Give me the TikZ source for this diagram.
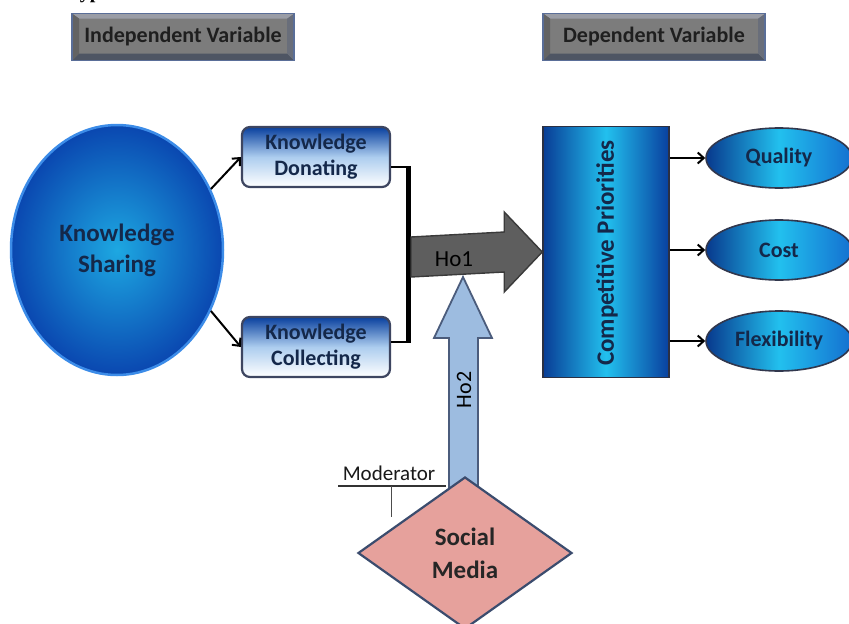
\documentclass[tikz,border=0pt]{standalone}
\usepackage{fontspec}
\setmainfont{Carlito}
\newfontfamily\hyptitle{Liberation Serif}
\usetikzlibrary{shapes.geometric,arrows.meta,calc}
\definecolor{navytext}{HTML}{14284A}
\definecolor{graybox}{HTML}{7C7C7C}
\definecolor{graydark}{HTML}{4E5563}
\definecolor{graylight}{HTML}{9A9DA6}
\definecolor{grayedge}{HTML}{5A6E98}
\definecolor{deepblue}{HTML}{0A47B0}
\definecolor{midblue}{HTML}{1470D0}
\definecolor{cyanblue}{HTML}{22C0EE}
\definecolor{rimblue}{HTML}{3C8CE8}
\definecolor{boxedge}{HTML}{3D4560}
\definecolor{hoonegray}{HTML}{5E5E5E}
\definecolor{hooneedge}{HTML}{3A3A3A}
\definecolor{hotwofill}{HTML}{9DBCE0}
\definecolor{hotwoedge}{HTML}{4B5C7C}
\definecolor{salmon}{HTML}{E6A19C}
\definecolor{diaedge}{HTML}{3B4C6E}
\tikzset{
  varbox/.style={rectangle, fill=graybox, draw=grayedge, line width=1.2pt,
    minimum width=222pt, minimum height=47pt, inner sep=0pt,
    font=\bfseries\fontsize{22}{26}\selectfont, text=black!88,
    path picture={
      \fill[graydark] (path picture bounding box.south west) -- (path picture bounding box.south east)
        -- ([xshift=-7pt,yshift=7pt]path picture bounding box.south east)
        -- ([xshift=7pt,yshift=7pt]path picture bounding box.south west) -- cycle;
      \fill[graydark!85] (path picture bounding box.south east) -- (path picture bounding box.north east)
        -- ([xshift=-7pt,yshift=-5pt]path picture bounding box.north east)
        -- ([xshift=-7pt,yshift=7pt]path picture bounding box.south east) -- cycle;
      \fill[graylight] (path picture bounding box.north west) -- (path picture bounding box.north east)
        -- ([xshift=-7pt,yshift=-5pt]path picture bounding box.north east)
        -- ([xshift=7pt,yshift=-5pt]path picture bounding box.north west) -- cycle;
      \fill[graybox!80!black] (path picture bounding box.north west) -- (path picture bounding box.south west)
        -- ([xshift=7pt,yshift=7pt]path picture bounding box.south west)
        -- ([xshift=7pt,yshift=-5pt]path picture bounding box.north west) -- cycle;
    }},
  kbox/.style={rectangle, rounded corners=8pt, draw=boxedge, line width=2.2pt,
    top color=deepblue!90!black, bottom color=white, middle color=midblue!35!white,
    minimum width=148pt, minimum height=60pt, inner sep=0pt, align=center,
    font=\bfseries\fontsize{22}{26}\selectfont, text=navytext},
  outcome/.style={ellipse, draw=boxedge!80!black, line width=1.6pt,
    left color=deepblue!80!black, right color=midblue, middle color=cyanblue,
    minimum width=146pt, minimum height=60pt, inner sep=0pt,
    font=\bfseries\fontsize{22}{24}\selectfont, text=navytext},
  linkarrow/.style={-{Straight Barb[length=6pt,width=11pt]}, line width=2pt, black},
}
\begin{document}
\begin{tikzpicture}[x=1pt,y=-1pt]
\useasboundingbox (0,0) rectangle (849,624);
\fill[white] (0,0) rectangle (849,624);

% cropped title (only its descenders fall inside the page)
\node[anchor=base west, inner sep=0pt, font=\hyptitle\bfseries\fontsize{20}{22}\selectfont] (title) at (64,-2) {Hypotheses};

% variable labels
\node[varbox] (indep) at (183,37) {Independent Variable};
\node[varbox] (dep) at (654,37) {Dependent Variable};

% Ho2 arrow (behind)
\coordinate (hotwotip) at (463,277);
\filldraw[fill=hotwofill, draw=hotwoedge, line width=1.8pt]
  (hotwotip) -- (492,338) -- (478,338) -- (478,505) -- (449,505) -- (449,338) -- (434,338) -- cycle;
\node[rotate=90, font=\fontsize{22}{24}\selectfont, text=black] (hotwo) at (464,390) {Ho2};

% Knowledge sharing
\node[ellipse, minimum width=212pt, minimum height=250pt, inner sep=0pt,
  inner color=cyanblue!80!deepblue, outer color=deepblue, draw=rimblue, line width=2.5pt,
  align=center, font=\bfseries\fontsize{25}{31}\selectfont, text=navytext] (ks) at (117,250)
  {Knowledge\\Sharing};

\node[kbox] (kd) at (316,157) {Knowledge\\Donating};
\node[kbox] (kc) at (316,347) {Knowledge\\Collecting};

\draw[linkarrow] (ks.33) -- (kd.west);
\draw[linkarrow] (ks.-33) -- (kc.west);

% bracket
\coordinate (brtop) at (408,167);
\coordinate (brbot) at (408,342);
\draw[line width=1.8pt] (kd.east |- brtop) -- (brtop);
\draw[line width=1.8pt] (kc.east |- brbot) -- (brbot);
\draw[line width=5pt, black] ([yshift=0.9pt]brtop) -- ([yshift=-0.9pt]brbot);

% Competitive priorities
\node[rectangle, draw=boxedge!70!black, line width=1.5pt,
  left color=deepblue!85!black, right color=deepblue!90!black, middle color=cyanblue,
  minimum width=126pt, minimum height=251pt, inner sep=0pt] (comp) at (606,252) {};
\node[rotate=90, font=\bfseries\fontsize{25}{27}\selectfont, text=navytext] (comptext) at (607,253) {Competitive Priorities};

% Ho1 arrow
\coordinate (hostart) at (411,257);
\coordinate (hotip) at (comp.west);
\filldraw[fill=hoonegray, draw=hooneedge, line width=1.4pt]
  ($(hostart)+(0,-20)$) -- ($(hotip)+(-38,-20)$) -- ($(hotip)+(-38,-40)$) -- (hotip)
  -- ($(hotip)+(-38,40)$) -- ($(hotip)+(-38,20)$) -- ($(hostart)+(0,20)$) -- cycle;
\node[font=\fontsize{23}{24}\selectfont, text=black] (hoone) at (454,259) {Ho1};

% outcomes
\node[outcome] (qual) at (779,158) {Quality};
\node[outcome] (cost) at (779,250) {Cost};
\node[outcome] (flex) at (779,341) {Flexibility};
\draw[linkarrow] (comp.east |- qual) -- (qual.west);
\draw[linkarrow] (comp.east |- cost) -- (cost.west);
\draw[linkarrow] (comp.east |- flex) -- (flex.west);

% Social media
\node[diamond, minimum width=214pt, minimum height=152pt, inner sep=0pt,
  fill=salmon, draw=diaedge, line width=2.2pt, align=center,
  font=\bfseries\fontsize{25}{33}\selectfont, text=black!85] (sm) at (465,553) {Social\\Media};

% moderator
\node[font=\fontsize{21}{22}\selectfont, text=black!90, inner sep=0pt, anchor=base] (mod) at (389,480) {Moderator};
\coordinate (modl) at (338,486);
\coordinate (modr) at (446,486);
\coordinate (modtick) at (391,486);
\coordinate (modend) at (391,517);
\draw[line width=1.3pt, black!80] (modl) -- (modr);
\draw[line width=0.8pt, black!70] (modtick) -- (modend);
\end{tikzpicture}
\end{document}
